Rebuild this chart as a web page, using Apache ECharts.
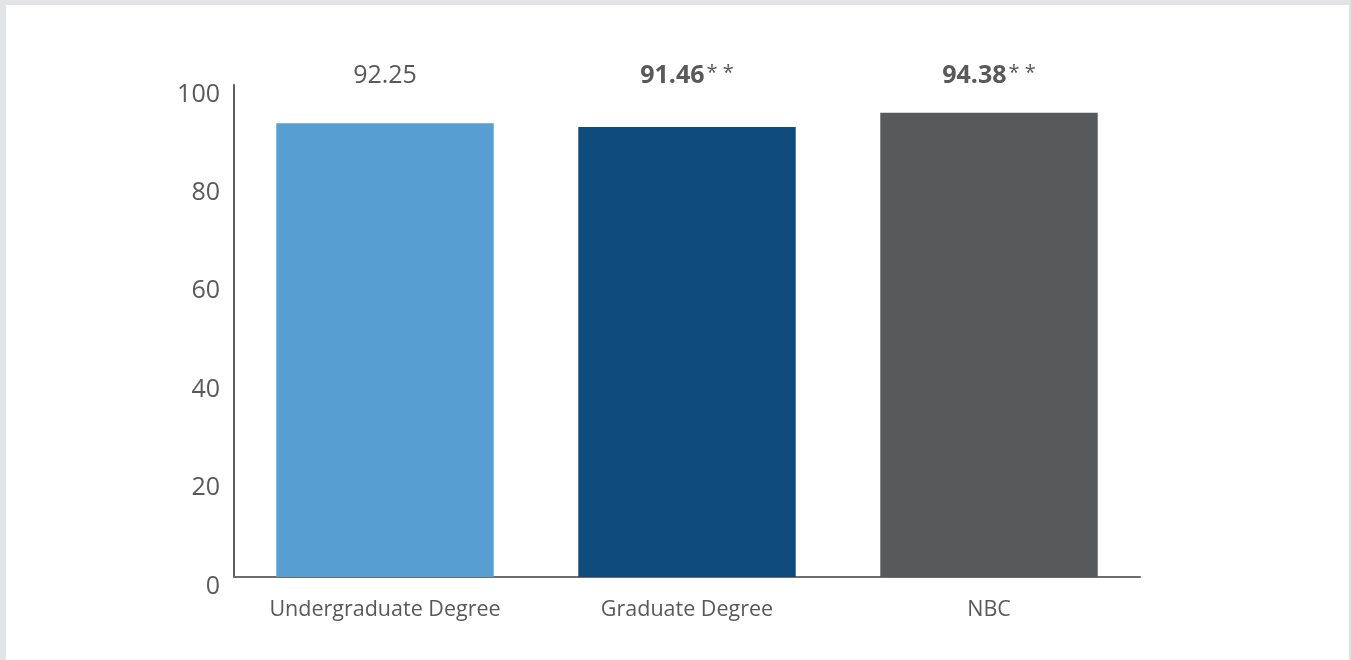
<!DOCTYPE html>
<html>
<head>
<meta charset="utf-8">
<script src="https://cdn.jsdelivr.net/npm/echarts@6/dist/echarts.min.js"></script>
<style>
  html, body { margin: 0; padding: 0; background: #e2e3e5; width: 1351px; height: 660px; overflow: hidden; }
  #chart { position: absolute; left: 6px; top: 5px; width: 1343px; height: 655px; background: #ffffff; }
</style>
</head>
<body>
<div id="chart"></div>
<script>
const categories = ['Undergraduate Degree', 'Graduate Degree', 'NBC'];
const values = [92.25, 91.46, 94.38];
const significant = [false, true, true];
const barColors = ['#579fd3', '#0f4c7d', '#58595b'];
const yTicks = [0, 20, 40, 60, 80, 100];

const FONT = 'Open Sans';
const TEXT = '#595959';

const chart = echarts.init(document.getElementById('chart'));
chart.setOption({
  animation: false,
  textStyle: { fontFamily: FONT },
  grid: { left: 228, right: 209, top: 80, bottom: 83 },
  xAxis: [
    {
      type: 'category',
      data: categories,
      axisLine: { show: true, lineStyle: { color: '#6d6d6d', width: 2 } },
      axisTick: { show: false },
      axisLabel: { interval: 0, color: TEXT, fontSize: 21.5, fontFamily: FONT, margin: 22 }
    },
    {
      type: 'category',
      position: 'top',
      data: values.map((v, i) => significant[i] ? '{b|' + v.toFixed(2) + '}{s|* *}' : '{n|' + v.toFixed(2) + '}'),
      axisLine: { show: false },
      axisTick: { show: false },
      axisLabel: {
        interval: 0,
        margin: -3,
        verticalAlign: 'bottom',
        rich: {
          n: { color: TEXT, fontSize: 25, fontFamily: FONT },
          b: { color: TEXT, fontSize: 25, fontFamily: FONT, fontWeight: 'bold' },
          s: { color: TEXT, fontSize: 20, fontFamily: FONT, verticalAlign: 'top', padding: [0, 0, 4, 2] }
        }
      }
    }
  ],
  yAxis: {
    type: 'value',
    min: yTicks[0],
    max: yTicks[yTicks.length - 1],
    interval: yTicks[1] - yTicks[0],
    axisLine: { show: true, lineStyle: { color: '#5e5e5e', width: 2 } },
    axisTick: { show: false },
    splitLine: { show: false },
    axisLabel: { color: TEXT, fontSize: 25, fontFamily: FONT, margin: 14, verticalAlign: 'top', padding: [-3, 0, 0, 0] }
  },
  series: [{
    type: 'bar',
    xAxisIndex: 0,
    barWidth: '72%',
    data: values.map((v, i) => ({ value: v, itemStyle: { color: barColors[i] } }))
  }]
});
</script>
</body>
</html>
